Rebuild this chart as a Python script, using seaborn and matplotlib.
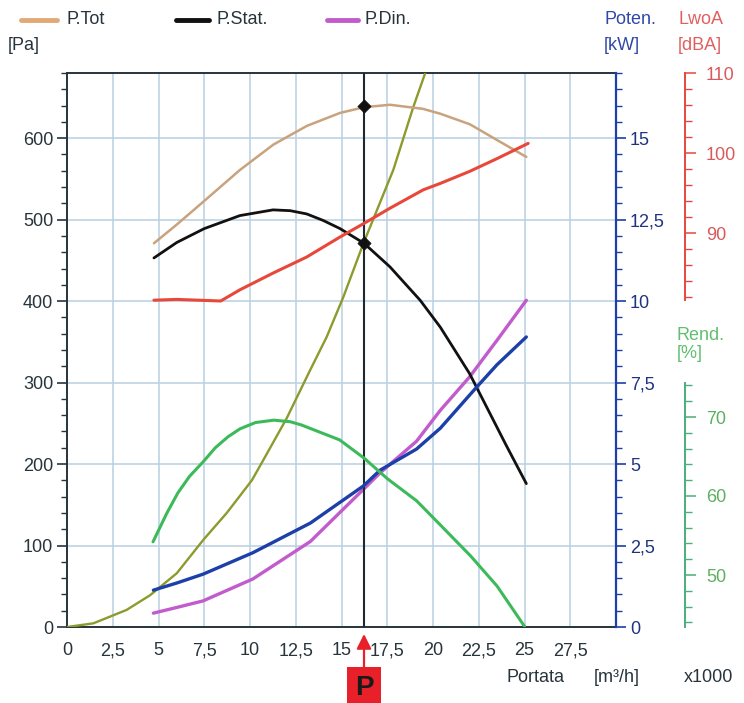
import numpy as np
import matplotlib
matplotlib.use("Agg")
import matplotlib.pyplot as plt
from matplotlib.lines import Line2D
from matplotlib.ticker import FixedLocator, MultipleLocator, FuncFormatter
import matplotlib.transforms as mtransforms
import seaborn as sns

# ---------------- data ----------------
# Portata x1000 m3/h
tot_x = [4.75, 6.0, 7.45, 9.45, 11.27, 13.1, 14.92, 16.23, 17.65, 19.45, 20.4, 22.02, 23.4, 25.1]
tot_pa = [471, 494, 522, 561, 592, 615, 631, 638, 641, 636, 630, 617, 599, 577]

stat_x = [4.75, 6.0, 7.5, 9.45, 11.26, 12.2, 13.1, 14.0, 14.92, 16.23, 17.65, 19.3, 20.4, 22.0, 24.0, 25.1]
stat_pa = [453, 472, 489, 505, 512, 511, 507, 499, 489, 471, 442, 401, 368, 311, 223, 176]

din_x = [4.72, 6.0, 7.43, 10.16, 13.3, 16.2, 17.1, 19.1, 20.4, 22.0, 23.5, 25.1]
din_pa = [17, 24, 32, 59, 105, 169, 189, 228, 266, 307, 352, 401]

sys_x = [0.0, 1.44, 3.26, 4.54, 6.0, 7.45, 8.73, 10.1, 10.73, 12.0, 13.28, 14.19, 15.1, 16.2, 17.83, 18.92, 19.56, 19.8]
sys_pa = [0, 4.5, 21, 39, 66, 107, 140, 180, 205, 256, 315, 356, 405, 471, 561, 638, 679, 700]

pow_x = [4.72, 6.0, 7.43, 10.16, 13.3, 16.2, 17.1, 19.1, 20.4, 22.4, 23.5, 25.1]
pow_kw = [1.13, 1.35, 1.62, 2.28, 3.19, 4.33, 4.81, 5.46, 6.1, 7.37, 8.05, 8.9]

lw_x = [4.75, 6.0, 8.4, 9.45, 11.27, 13.1, 14.92, 16.23, 17.65, 19.47, 20.4, 22.0, 23.5, 25.2]
lw_db = [81.6, 81.7, 81.5, 82.9, 85.0, 87.0, 89.5, 91.2, 93.1, 95.4, 96.2, 97.7, 99.3, 101.2]

eff_x = [4.7, 5.45, 6.06, 6.7, 7.43, 8.1, 8.8, 9.45, 10.3, 11.3, 12.2, 12.8, 14.9, 16.23, 17.5, 19.1, 20.5, 22.06, 23.5, 25.0]
eff_pct = [54.2, 57.8, 60.4, 62.5, 64.3, 66.1, 67.5, 68.5, 69.3, 69.6, 69.4, 69.0, 67.1, 64.8, 62.2, 59.4, 56.1, 52.4, 48.6, 43.5]

op_x = [16.23, 16.23]
op_pa = [639, 471]

x_ticks = [0, 2.5, 5, 7.5, 10, 12.5, 15, 17.5, 20, 22.5, 25, 27.5]
pa_ticks = [0, 100, 200, 300, 400, 500, 600]
kw_ticks = [0, 2.5, 5, 7.5, 10, 12.5, 15]
db_ticks = [90, 100, 110]
eff_ticks = [50, 60, 70]

legend_labels = ["P.Tot", "P.Stat.", "P.Din."]

# ---------------- style ----------------
sns.set_style("white")
plt.rcParams['font.family'] = ['Liberation Sans', 'DejaVu Sans']

C_TOT = "#c9a27e"
C_TOT_LEG = "#e2a878"
C_STAT = "#111111"
C_DIN = "#c25ccc"
C_SYS = "#8d9a2c"
C_POW = "#1c3fa8"
C_LW = "#e8483a"
C_EFF = "#3cba5a"
C_AX = "#27343c"
C_GRID = "#b8d0e2"

W, H = 744, 703
fig = plt.figure(figsize=(W / 100, H / 100), dpi=100)
fig.patch.set_facecolor("white")
ax = fig.add_axes([67 / W, 1 - 627 / H, 549 / W, 554 / H])

FS = 13
comma = FuncFormatter(lambda v, p: f"{v:g}".replace('.', ','))

# ---------------- main (Pa) axis ----------------
ax.set_xlim(0, 30)
ax.set_ylim(0, 680)
ax.xaxis.set_major_locator(FixedLocator(x_ticks))
ax.xaxis.set_minor_locator(MultipleLocator(0.5))
ax.yaxis.set_major_locator(FixedLocator(pa_ticks))
ax.yaxis.set_minor_locator(MultipleLocator(20))
ax.xaxis.set_major_formatter(comma)
ax.grid(True, which='major', color=C_GRID, lw=1.1, zorder=0)
ax.set_axisbelow(True)
for s in ['left', 'bottom', 'top']:
    ax.spines[s].set_color(C_AX)
    ax.spines[s].set_linewidth(1.4)
ax.spines['right'].set_visible(False)
ax.tick_params(axis='both', which='major', direction='out', length=7, width=1.2,
               color=C_AX, labelcolor=C_AX, labelsize=FS, pad=3)
ax.tick_params(axis='both', which='minor', direction='out', length=4.5, width=1.0, color=C_AX)
ax.tick_params(axis='x', pad=4)

sns.lineplot(x=sys_x, y=sys_pa, ax=ax, color=C_SYS, lw=1.7, estimator=None, sort=False, zorder=3)
sns.lineplot(x=tot_x, y=tot_pa, ax=ax, color=C_TOT, lw=1.8, estimator=None, sort=False, zorder=3)
sns.lineplot(x=stat_x, y=stat_pa, ax=ax, color=C_STAT, lw=2.0, estimator=None, sort=False, zorder=4)
sns.lineplot(x=din_x, y=din_pa, ax=ax, color=C_DIN, lw=2.4, estimator=None, sort=False, zorder=3)

ax.axvline(op_x[0], color="#1d2a30", lw=1.5, zorder=5)
sns.scatterplot(x=op_x, y=op_pa, ax=ax, color="#111111", marker='D', s=45,
                edgecolor="#111111", zorder=6, legend=False)
ax.set_xlabel("")
ax.set_ylabel("")

# ---------------- kW axis ----------------
ax_kw = ax.twinx()
ax_kw.set_ylim(0, 17)
for s in ['left', 'bottom', 'top']:
    ax_kw.spines[s].set_visible(False)
ax_kw.spines['right'].set_color(C_POW)
ax_kw.spines['right'].set_linewidth(1.6)
ax_kw.yaxis.set_major_locator(FixedLocator(kw_ticks))
ax_kw.yaxis.set_minor_locator(MultipleLocator(0.5))
ax_kw.yaxis.set_major_formatter(comma)
ax_kw.tick_params(axis='y', which='major', direction='out', length=7, width=1.2,
                  color=C_POW, labelcolor="#1f3380", labelsize=FS, pad=3)
ax_kw.tick_params(axis='y', which='minor', direction='out', length=4.5, width=1.0, color=C_POW)
sns.lineplot(x=pow_x, y=pow_kw, ax=ax_kw, color=C_POW, lw=2.4, estimator=None, sort=False)
ax_kw.set_ylabel("")

# ---------------- dB axis ----------------
POS = (685 - 67) / 549
ax_db = ax.twinx()
ax_db.set_ylim(110 - 554 / 8, 110)
for s in ['left', 'bottom', 'top']:
    ax_db.spines[s].set_visible(False)
ax_db.spines['right'].set_position(('axes', POS))
ax_db.spines['right'].set_bounds(81.6, 110)
ax_db.spines['right'].set_color(C_LW)
ax_db.spines['right'].set_linewidth(1.4)
ax_db.yaxis.set_major_locator(FixedLocator(db_ticks))
ax_db.yaxis.set_minor_locator(FixedLocator(list(np.arange(82, 110.1, 2))))
ax_db.tick_params(axis='y', which='major', direction='out', length=8, width=1.1,
                  color=C_LW, labelcolor="#d85a5a", labelsize=FS, pad=7)
ax_db.tick_params(axis='y', which='minor', direction='out', length=5, width=1.0, color=C_LW)
sns.lineplot(x=lw_x, y=lw_db, ax=ax_db, color=C_LW, lw=2.2, estimator=None, sort=False)
ax_db.set_ylabel("")

# ---------------- efficiency axis ----------------
ax_eff = ax.twinx()
eff_scale = 7.9
eff_bottom = 50 - (627 - 575) / eff_scale
ax_eff.set_ylim(eff_bottom, eff_bottom + 554 / eff_scale)
for s in ['left', 'bottom', 'top']:
    ax_eff.spines[s].set_visible(False)
ax_eff.spines['right'].set_position(('axes', POS))
ax_eff.spines['right'].set_bounds(eff_bottom, 74.3)
ax_eff.spines['right'].set_color("#4cae7a")
ax_eff.spines['right'].set_linewidth(1.4)
ax_eff.yaxis.set_major_locator(FixedLocator(eff_ticks))
ax_eff.yaxis.set_minor_locator(FixedLocator(list(np.arange(44, 74.1, 2))))
ax_eff.tick_params(axis='y', which='major', direction='out', length=8, width=1.1,
                   color="#4cae7a", labelcolor="#5cb060", labelsize=FS, pad=7)
ax_eff.tick_params(axis='y', which='minor', direction='out', length=5, width=1.0, color="#4cae7a")
sns.lineplot(x=eff_x, y=eff_pct, ax=ax_eff, color=C_EFF, lw=2.2, estimator=None, sort=False)
ax_eff.set_ylabel("")

# ---------------- headers ----------------
def ftext(x, y, s, **kw):
    fig.text(x / W, 1 - y / H, s, va='center', fontsize=FS, **kw)

ftext(8, 46, "[Pa]", color=C_AX)
ftext(604, 20, "Poten.", color="#3048a8")
ftext(604, 46, "[kW]", color="#3048a8")
ftext(678, 20, "LwoA", color="#e06060")
ftext(678, 46, "[dBA]", color="#e06060")
ftext(677, 335, "Rend.", color="#60bf70")
ftext(677, 354, "[%]", color="#60bf70")
ftext(507, 678, "Portata", color=C_AX)
ftext(594, 678, "[m³/h]", color=C_AX)
ftext(684, 678, "x1000", color=C_AX)

# legend (manual, matching the reference layout)
leg_items = [(21, 57, 66, C_TOT_LEG), (176, 209, 216, C_STAT), (327, 358, 365, C_DIN)]
for (x0, x1, xt, c), lab in zip(leg_items, legend_labels):
    fig.add_artist(Line2D([x0 / W, x1 / W], [1 - 20 / H, 1 - 20 / H], color=c, lw=3.5,
                          transform=fig.transFigure))
    ftext(xt, 20, lab, color=C_AX)

# operating point marker "P"
trans = mtransforms.blended_transform_factory(ax.transData, ax.transAxes)
ax.annotate("", xy=(op_x[0], -0.0126), xycoords=trans,
            xytext=(op_x[0], -0.081), textcoords=trans,
            arrowprops=dict(arrowstyle='-|>', color="#e8202a", lw=1.6, mutation_scale=22,
                            shrinkA=0, shrinkB=0), annotation_clip=False)
ax.text(op_x[0], -0.110, "P", transform=trans, ha='center', va='center',
        fontsize=20, fontweight='bold', color="#1a1a1a", clip_on=False,
        bbox=dict(boxstyle='square,pad=0.28', fc="#e8202a", ec='none'))

fig.savefig("out.png", dpi=100, facecolor="white")
